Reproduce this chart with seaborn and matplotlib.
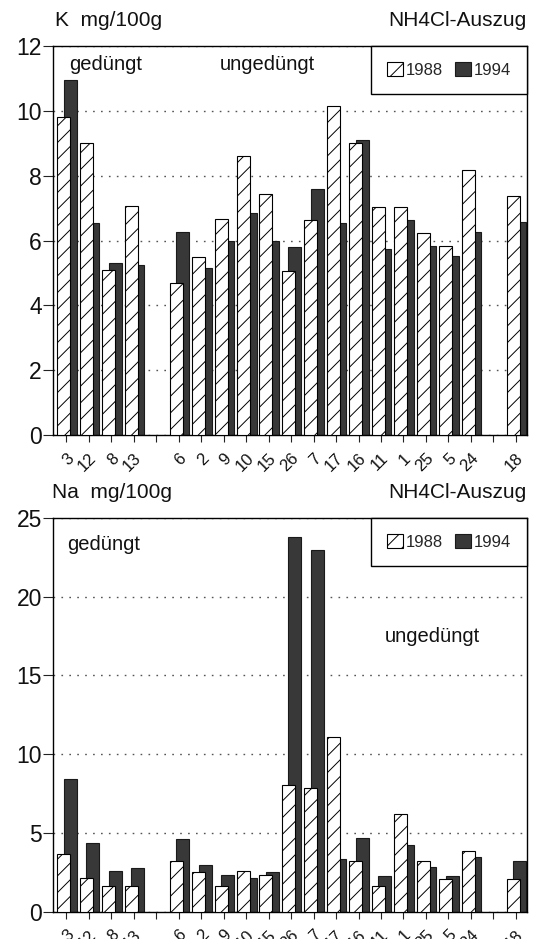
import numpy as np
import matplotlib
matplotlib.use("Agg")
import matplotlib.pyplot as plt
from matplotlib.patches import Patch
from matplotlib.transforms import ScaledTranslation
import seaborn as sns

# Plot numbers along the x axis; empty strings leave a gap between groups
plot_labels = ["3", "12", "8", "13", "", "6", "2", "9", "10", "15", "26",
               "7", "17", "16", "11", "1", "25", "5", "24", "", "18"]

# Exchangeable potassium (NH4Cl extract), mg/100g
k_1988 = [9.8, 9.0, 5.1, 7.05, 4.7, 5.48, 6.66, 8.6, 7.43, 5.06,
          6.64, 10.15, 9.0, 7.03, 7.03, 6.24, 5.84, 8.18, 7.38]
k_1994 = [10.95, 6.53, 5.3, 5.25, 6.27, 5.16, 6.0, 6.84, 5.97, 5.81,
          7.58, 6.53, 9.1, 5.73, 6.64, 5.84, 5.52, 6.27, 6.58]

# Exchangeable sodium (NH4Cl extract), mg/100g
na_1988 = [3.65, 2.12, 1.65, 1.65, 3.24, 2.54, 1.65, 2.59, 2.33, 8.05,
           7.84, 11.08, 3.24, 1.65, 6.21, 3.22, 2.06, 3.88, 2.06]
na_1994 = [8.41, 4.38, 2.59, 2.76, 4.6, 2.97, 2.33, 2.16, 2.5, 23.79,
           22.98, 3.33, 4.66, 2.27, 4.22, 2.82, 2.29, 3.5, 3.24]

years = ["1988", "1994"]

sns.set_theme(style="white")
plt.rcParams["font.family"] = ["Liberation Sans", "DejaVu Sans"]
plt.rcParams["hatch.linewidth"] = 0.7
plt.rcParams["hatch.color"] = "black"

DARK = "#383838"
W, H = 534, 939
fig = plt.figure(figsize=(W / 100, H / 100), dpi=100)
fig.patch.set_facecolor("white")


def px_axes(left, top, right, bottom):
    return fig.add_axes([left / W, 1 - bottom / H, (right - left) / W, (bottom - top) / H])


positions = np.array([i for i, lab in enumerate(plot_labels) if lab], dtype=float)


def draw_panel(ax, v88, v94, ymax, ystep):
    sns.barplot(x=positions + 0.17, y=v94, native_scale=True, orient="x",
                width=0.58, color=DARK, saturation=1, edgecolor="#1a1a1a",
                linewidth=0.8, errorbar=None, zorder=2, ax=ax)
    sns.barplot(x=positions - 0.12, y=v88, native_scale=True, orient="x",
                width=0.58, color="white", saturation=1, edgecolor="black",
                linewidth=0.8, hatch="//", errorbar=None, zorder=3, ax=ax)
    ax.set_xlim(-0.6, 20.5)
    ax.set_ylim(0, ymax)
    ax.set_yticks(np.arange(0, ymax + 0.01, ystep))
    ax.set_xticks(range(len(plot_labels)))
    ax.set_xticklabels(plot_labels)
    ax.set_xlabel("")
    ax.set_ylabel("")
    ax.set_axisbelow(True)
    ax.yaxis.grid(True, linestyle=(0, (1.2, 4.5)), color="#555555", linewidth=1.0)
    ax.xaxis.grid(False)
    for sp in ax.spines.values():
        sp.set_visible(True)
        sp.set_color("black")
        sp.set_linewidth(1.0)
    ax.tick_params(axis="y", left=True, length=7, width=0.8, color="#222222",
                   labelsize=16.5, pad=1, labelcolor="#111111")
    ax.tick_params(axis="x", bottom=True, length=5, width=0.8, color="#222222",
                   labelsize=12, pad=10, labelcolor="#111111")
    for lab in ax.get_xticklabels():
        lab.set_rotation(45)
        lab.set_ha("right")
        lab.set_va("center")
        lab.set_rotation_mode("anchor")
        lab.set_transform(lab.get_transform() +
                          ScaledTranslation(0.05, 0, fig.dpi_scale_trans))
    handles = [Patch(facecolor="white", edgecolor="black", hatch="//", linewidth=0.8),
               Patch(facecolor=DARK, edgecolor="#1a1a1a", linewidth=0.8)]
    leg = ax.legend(handles, years, ncol=2, loc="upper right",
                    bbox_to_anchor=(1, 1), borderaxespad=0, frameon=True,
                    fancybox=False, edgecolor="black", framealpha=1,
                    fontsize=12, handlelength=0.95, handleheight=0.95,
                    handletextpad=0.2, columnspacing=0.7, borderpad=0.95)
    leg.get_frame().set_linewidth(1.0)
    leg.set_zorder(5)


def ftext(x, y, s, size, ha="left"):
    fig.text(x / W, 1 - y / H, s, fontsize=size, ha=ha, va="center", color="#111111")


# Potassium panel
ax1 = px_axes(53, 46, 527, 435)
draw_panel(ax1, k_1988, k_1994, 12, 2)
ftext(55, 21, "K  mg/100g", 15)
ftext(527, 21, "NH4Cl-Auszug", 15, ha="right")
ftext(69, 64, "gedüngt", 14.5)
ftext(220, 64, "ungedüngt", 14.5)

# Sodium panel
ax2 = px_axes(53, 518, 527, 911.7)
draw_panel(ax2, na_1988, na_1994, 25, 5)
ftext(52, 493, "Na  mg/100g", 15)
ftext(527, 493, "NH4Cl-Auszug", 15, ha="right")
ftext(67, 545, "gedüngt", 14.5)
ftext(385, 636, "ungedüngt", 14.5)

fig.savefig("out.png", dpi=100, facecolor="white")
